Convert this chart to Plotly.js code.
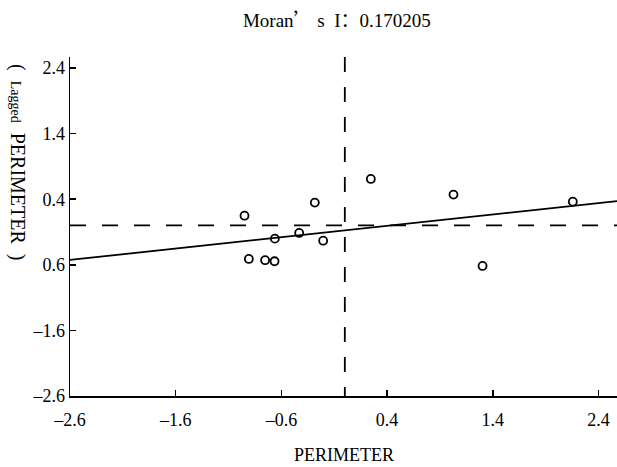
<!DOCTYPE html>
<html>
<head>
<meta charset="utf-8">
<script src="https://cdn.plot.ly/plotly-3.0.1.min.js"></script>
<style>html,body{margin:0;padding:0;background:#fff;}#chart{width:617px;height:467px;}</style>
</head>
<body>
<div id="chart"></div>
<script>
// Standardized PERIMETER (x) vs spatially lagged PERIMETER (y)
var perimeter = [-0.949, -0.908, -0.754, -0.665, -0.662, -0.432, -0.284, -0.205, 0.246, 1.028, 1.303, 2.157];
var laggedPerimeter = [0.149, -0.511, -0.530, -0.546, -0.201, -0.114, 0.348, -0.232, 0.709, 0.470, -0.617, 0.363];

// Fitted line (as drawn in the picture)
var fitSlope = 0.1734;
var fitIntercept = -0.075;

var xRange = [-2.6, 2.575];
var yRange = [-2.6, 2.568];

var xTickVals = [-2.6, -1.6, -0.6, 0.4, 1.4, 2.4];
var xTickText = ['\u20132.6', '\u20131.6', '\u20130.6', '0.4', '1.4', '2.4'];
var yTickVals = [2.4, 1.4, 0.4, -0.6, -1.6, -2.6];
var yTickText = ['2.4', '1.4', '0.4', '0.6', '\u20131.6', '\u20132.6'];

var cjk = "font-family:Noto Sans CJK SC";
var titleText = 'Moran<span style="' + cjk + '">\u2019</span> s  I<span style="' + cjk + '">\uFF1A</span>0.170205';
var xTitle = 'PERIMETER';
var yTitle = '(  <span style="font-size:14px">Lagged</span>  PERIMETER  )';

var serif = 'Liberation Serif, serif';

var lineX = xRange.slice();
var lineY = lineX.map(function (v) { return fitIntercept + fitSlope * v; });

var traces = [
  {
    x: lineX, y: lineY, type: 'scatter', mode: 'lines',
    line: {color: '#000', width: 1.8}, hoverinfo: 'skip', showlegend: false
  },
  {
    x: perimeter, y: laggedPerimeter, type: 'scatter', mode: 'markers',
    marker: {symbol: 'circle-open', size: 8, color: '#000', line: {width: 1.8, color: '#000'}},
    showlegend: false
  }
];

var layout = {
  width: 617, height: 467,
  margin: {l: 70, r: 0, t: 57, b: 71},
  paper_bgcolor: '#fff', plot_bgcolor: '#fff',
  font: {family: serif, size: 18, color: '#000'},
  title: {text: titleText, font: {family: serif, size: 19, color: '#000'},
          x: 0.546, xanchor: 'center', xref: 'container', y: 0.957, yanchor: 'middle', yref: 'container'},
  xaxis: {
    range: xRange, tickmode: 'array', tickvals: xTickVals, ticktext: xTickText,
    showgrid: false, zeroline: false, showline: true, linecolor: '#000', linewidth: 1.5,
    ticks: 'inside', ticklen: 6, tickwidth: 1.5, tickcolor: '#000',
    ticklabelstandoff: 7,
    tickfont: {family: serif, size: 18, color: '#000'}
  },
  yaxis: {
    range: yRange, tickmode: 'array', tickvals: yTickVals, ticktext: yTickText,
    showgrid: false, zeroline: false, showline: true, linecolor: '#000', linewidth: 1.5,
    ticks: 'inside', ticklen: 6, tickwidth: 1.5, tickcolor: '#000',
    tickfont: {family: serif, size: 18, color: '#000'}
  },
  shapes: [
    {type: 'line', xref: 'x', yref: 'paper', x0: 0, x1: 0, y0: 1, y1: 0,
     line: {color: '#000', width: 1.8, dash: '15px,15px'}},
    {type: 'line', xref: 'paper', yref: 'y', x0: 0, x1: 1, y0: 0, y1: 0,
     line: {color: '#000', width: 1.8, dash: '16px,16px'}}
  ],
  annotations: [
    {text: yTitle, xref: 'paper', yref: 'paper', x: -0.095, y: 0.69,
     xanchor: 'center', yanchor: 'middle', textangle: 90, showarrow: false,
     font: {family: serif, size: 20, color: '#000'}},
    {text: xTitle, xref: 'paper', yref: 'paper', x: 0.5, y: -0.1755,
     xanchor: 'center', yanchor: 'middle', showarrow: false,
     font: {family: serif, size: 18, color: '#000'}}
  ]
};

Plotly.newPlot('chart', traces, layout, {displayModeBar: false, staticPlot: true});
</script>
</body>
</html>
